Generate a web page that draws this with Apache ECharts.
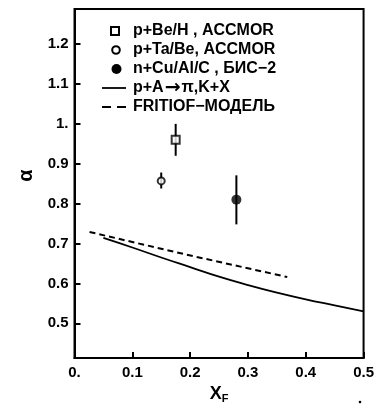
<!DOCTYPE html>
<html>
<head>
<meta charset="utf-8">
<script src="https://cdn.jsdelivr.net/npm/echarts@6/dist/echarts.min.js"></script>
<style>
  html, body { margin: 0; background: #fff; }
  #chart { width: 377px; height: 409px; }
</style>
</head>
<body>
<div id="chart"></div>
<script>
// tick positions
const xTicks = [0, 0.1, 0.2, 0.3, 0.4, 0.5];
const yTicks = [0.5, 0.6, 0.7, 0.8, 0.9, 1.0, 1.1, 1.2];

const names = ['p+Be/H , ACCMOR', 'p+Ta/Be, ACCMOR', 'n+Cu/Al/C , БИС−2', 'p+A{a|→}π,K+X', 'FRITIOF−МОДЕЛЬ'];

// [xF, alpha, low, high]
const beH = [[0.175, 0.96, 0.92, 1.0]];
const taBe = [[0.150, 0.857, 0.838, 0.878]];
const cuAlC = [[0.280, 0.81, 0.748, 0.871]];

// curves [xF, alpha]
const pionKaon = [[0.05, 0.714], [0.1, 0.69], [0.15, 0.665], [0.2, 0.641], [0.25, 0.617],
  [0.3, 0.596], [0.35, 0.577], [0.4, 0.56], [0.45, 0.545], [0.5, 0.53]];
const fritiof = [[0.026, 0.729], [0.194, 0.672], [0.368, 0.616]];

const FONT = 'Liberation Sans';

const chart = echarts.init(document.getElementById('chart'));

function errBars(data, name) {
  return {
    type: 'custom',
    name: name + ' err',
    data: data,
    z: 2,
    silent: true,
    renderItem: function (params, api) {
      const p1 = api.coord([api.value(0), api.value(2)]);
      const p2 = api.coord([api.value(0), api.value(3)]);
      return {
        type: 'line',
        shape: { x1: p1[0], y1: p1[1], x2: p2[0], y2: p2[1] },
        style: { stroke: '#000', lineWidth: 2 }
      };
    }
  };
}

// hand-made legend (icons + text), rows 19px apart
const rowY = [31, 50, 69, 88, 107];
const legendText = names.map((t, i) => ({
  type: 'text', x: 133, y: rowY[i],
  style: {
    text: t, fill: '#000', font: 'bold 16px ' + FONT, verticalAlign: 'middle',
    rich: { a: { font: 'bold 19px DejaVu Sans', fill: '#000', padding: [0, 1, 0, 1] } }
  }
}));
const legendIcons = [
  { type: 'rect', shape: { x: 111, y: rowY[0] - 4, width: 8, height: 8 }, style: { fill: '#fff', stroke: '#000', lineWidth: 2 } },
  { type: 'circle', shape: { cx: 116, cy: rowY[1], r: 3.8 }, style: { fill: '#fff', stroke: '#000', lineWidth: 2 } },
  { type: 'circle', shape: { cx: 116.5, cy: rowY[2], r: 5 }, style: { fill: '#000' } },
  { type: 'line', shape: { x1: 102, y1: rowY[3], x2: 126, y2: rowY[3] }, style: { stroke: '#000', lineWidth: 1.8 } },
  { type: 'line', shape: { x1: 102, y1: rowY[4], x2: 126, y2: rowY[4] }, style: { stroke: '#000', lineWidth: 2, lineDash: [9, 6] } }
];

chart.setOption({
  animation: false,
  grid: { left: 74.5, right: 13, top: 9, bottom: 46, show: true, borderColor: '#000', borderWidth: 2 },
  xAxis: {
    type: 'value',
    min: 0, max: 0.5,
    name: 'X{sub|F}',
    nameLocation: 'middle',
    nameGap: 26,
    nameTextStyle: {
      fontFamily: FONT, fontWeight: 'bold', fontSize: 18, color: '#000',
      rich: { sub: { fontFamily: FONT, fontWeight: 'bold', fontSize: 11, verticalAlign: 'bottom', padding: [9, 0, 0, 0] } }
    },
    splitLine: { show: false },
    axisLine: { lineStyle: { color: '#000', width: 2 } },
    axisTick: { inside: true, length: 6, lineStyle: { width: 2 }, customValues: xTicks },
    axisLabel: {
      customValues: xTicks,
      margin: 7,
      fontFamily: FONT, fontWeight: 'bold', fontSize: 15, color: '#000',
      formatter: v => v === 0 ? '0.' : v.toFixed(1)
    }
  },
  yAxis: {
    type: 'value',
    min: 0.413, max: 1.288,
    name: 'α',
    nameLocation: 'middle',
    nameGap: 38,
    nameTextStyle: { fontFamily: FONT, fontWeight: 'bold', fontSize: 20, color: '#000', padding: [0, 0, 0, 16] },
    splitLine: { show: false },
    axisLine: { show: true, lineStyle: { color: '#000', width: 2 } },
    axisTick: { inside: true, length: 6, lineStyle: { width: 2 }, customValues: yTicks },
    axisLabel: {
      customValues: yTicks,
      margin: 6,
      fontFamily: FONT, fontWeight: 'bold', fontSize: 15, color: '#000',
      formatter: v => Math.abs(v - 1) < 1e-9 ? '1.' : v.toFixed(1)
    }
  },
  series: [
    errBars(beH, names[0]),
    errBars(taBe, names[1]),
    errBars(cuAlC, names[2]),
    {
      name: names[0], type: 'scatter', symbol: 'rect', symbolSize: 8, z: 3,
      itemStyle: { color: '#fff', borderColor: '#000', borderWidth: 2 },
      data: beH.map(d => [d[0], d[1]])
    },
    {
      name: names[1], type: 'scatter', symbol: 'circle', symbolSize: 7, z: 3,
      itemStyle: { color: '#fff', borderColor: '#000', borderWidth: 2 },
      data: taBe.map(d => [d[0], d[1]])
    },
    {
      name: names[2], type: 'scatter', symbol: 'circle', symbolSize: 10, z: 3,
      itemStyle: { color: '#000', borderColor: '#000', borderWidth: 0 },
      data: cuAlC.map(d => [d[0], d[1]])
    },
    {
      name: names[3], type: 'line', smooth: true, symbol: 'none',
      lineStyle: { color: '#000', width: 1.8 },
      data: pionKaon
    },
    {
      name: names[4], type: 'line', symbol: 'none',
      lineStyle: { color: '#000', width: 2, type: [6, 4] },
      data: fritiof
    }
  ],
  graphic: legendIcons.concat(legendText).concat([
    { type: 'circle', shape: { cx: 360, cy: 402, r: 1.3 }, style: { fill: '#000' } }
  ])
});
</script>
</body>
</html>
